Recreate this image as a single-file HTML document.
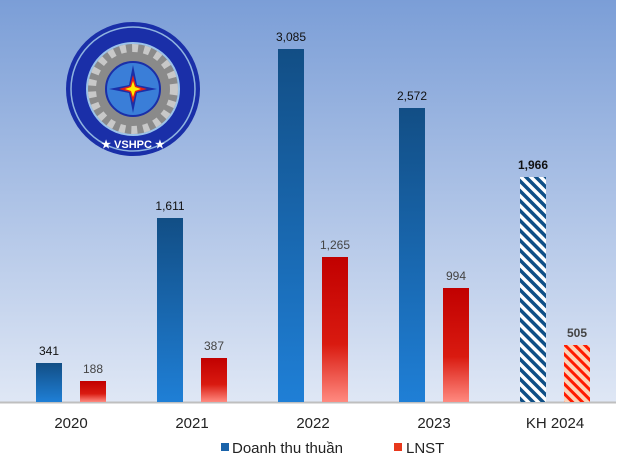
<!DOCTYPE html>
<html><head><style>body{margin:0;background:#fff}svg{display:block}text{font-family:"Liberation Sans",sans-serif}</style></head><body>
<svg width="626" height="471" viewBox="0 0 626 471">
<defs>
<linearGradient id="bg" x1="0" y1="0" x2="0" y2="1"><stop offset="0" stop-color="#7b9ed7"/><stop offset="1" stop-color="#dfe7f5"/></linearGradient>
<linearGradient id="bl" x1="0" y1="0" x2="0" y2="1"><stop offset="0" stop-color="#124e85"/><stop offset="1" stop-color="#1f7fd6"/></linearGradient>
<linearGradient id="rd" x1="0" y1="0" x2="0" y2="1"><stop offset="0" stop-color="#c10000"/><stop offset="0.6" stop-color="#d91a10"/><stop offset="1" stop-color="#ff8a80"/></linearGradient>
<pattern id="hb" width="7" height="7" patternUnits="userSpaceOnUse" patternTransform="rotate(-45)"><rect width="7" height="7" fill="#fff"/><rect width="3.5" height="7" fill="#0f4f86"/></pattern>
<pattern id="hr" width="7" height="7" patternUnits="userSpaceOnUse" patternTransform="rotate(-45)"><rect width="7" height="7" fill="#fcd3b8"/><rect width="3" height="7" fill="#ff1a00"/></pattern>
</defs>
<rect x="0" y="0" width="616" height="402" fill="url(#bg)"/>
<line x1="0" y1="402.5" x2="616" y2="402.5" stroke="#bfbfbf" stroke-width="2"/>
<g fill="url(#bl)">
<rect x="36" y="363" width="26" height="39"/>
<rect x="157" y="218" width="26" height="184"/>
<rect x="278" y="49" width="26" height="353"/>
<rect x="399" y="108" width="26" height="294"/>
</g>
<rect x="520" y="177" width="26" height="225" fill="url(#hb)"/>
<g fill="url(#rd)">
<rect x="80" y="381" width="26" height="21"/>
<rect x="201" y="358" width="26" height="44"/>
<rect x="322" y="257" width="26" height="145"/>
<rect x="443" y="288" width="26" height="114"/>
</g>
<rect x="564" y="345" width="26" height="57" fill="url(#hr)"/>
<g font-size="12" text-anchor="middle" fill="#222">
<text x="49" y="355" fill="#111">341</text>
<text x="93" y="373" fill="#444">188</text>
<text x="170" y="210" fill="#111">1,611</text>
<text x="214" y="350" fill="#444">387</text>
<text x="291" y="41" fill="#111">3,085</text>
<text x="335" y="249" fill="#444">1,265</text>
<text x="412" y="100" fill="#111">2,572</text>
<text x="456" y="280" fill="#444">994</text>
<text x="533" y="169" font-weight="bold" fill="#111">1,966</text>
<text x="577" y="337" font-weight="bold" fill="#444">505</text>
</g>
<g font-size="15" text-anchor="middle" fill="#222">
<text x="71" y="428">2020</text><text x="192" y="428">2021</text><text x="313" y="428">2022</text><text x="434" y="428">2023</text><text x="555" y="428">KH 2024</text>
</g>
<rect x="221" y="443" width="8" height="8" fill="#1a63aa"/>
<text x="232" y="453" font-size="15" fill="#222">Doanh thu thuần</text>
<rect x="394" y="443" width="8" height="8" fill="#e8381c"/>
<text x="406" y="453" font-size="15" fill="#222">LNST</text>
<g transform="translate(133,89)">
<circle r="67" fill="#1a2fa8"/>
<circle r="62" fill="none" stroke="#8fb4e0" stroke-width="1.5"/>
<circle r="46" fill="#8a8a8a" stroke="#9cc3ea" stroke-width="2"/>
<circle r="41" fill="none" stroke="#c8c8c8" stroke-width="8" stroke-dasharray="6 6"/>
<circle r="27" fill="#3a7ed8" stroke="#1a2fa8" stroke-width="2"/>
<polygon points="0,-24 4,-4 24,0 4,4 0,24 -4,4 -24,0 -4,-4" fill="#1a2fa8"/>
<polygon points="0,-14 3,-3 14,0 3,3 0,14 -3,3 -14,0 -3,-3" fill="#e0201a"/>
<polygon points="0,-8 2,-2 8,0 2,2 0,8 -2,2 -8,0 -2,-2" fill="#ffee00"/>
<text x="0" y="59" font-size="11" font-weight="bold" fill="#fff" text-anchor="middle">★ VSHPC ★</text>
</g>
</svg>
</body></html>
